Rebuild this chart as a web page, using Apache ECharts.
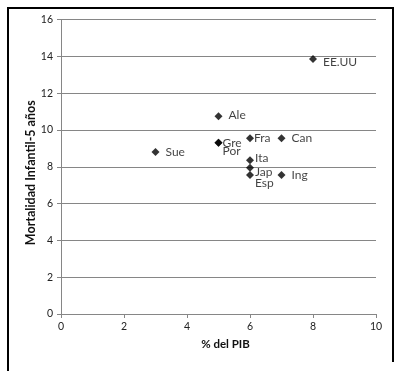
<!DOCTYPE html>
<html>
<head>
<meta charset="utf-8">
<script src="https://cdn.jsdelivr.net/npm/echarts@6/dist/echarts.min.js"></script>
<style>
html,body{margin:0;padding:0;background:#fff;}
#c{width:402px;height:371px;}
</style>
</head>
<body>
<div id="c"></div>
<script>
// Data
var countries = ['Sue', 'Gre', 'Por', 'Ale', 'Fra', 'Can', 'Ita', 'Jap', 'Esp', 'Ing', 'EE.UU'];
var pibValues = [3, 5, 5, 5, 6, 7, 6, 6, 6, 7, 8];
var mortalityValues = [8.8, 9.3, 9.3, 10.75, 9.55, 9.55, 8.35, 7.95, 7.55, 7.55, 13.85];
var xTicks = [0, 2, 4, 6, 8, 10];
var yTicks = [0, 2, 4, 6, 8, 10, 12, 14, 16];

// label placement (style only)
var labelStyle = {
  'Sue': [6, 0], 'Gre': [0, 0], 'Por': [0, 8], 'Ale': [6, -1], 'Fra': [0, 0],
  'Can': [6, 0], 'Ita': [1, -2], 'Jap': [1, 4], 'Esp': [1, 8], 'Ing': [6, 0], 'EE.UU': [6, 3]
};

var chart = echarts.init(document.getElementById('c'), null, {renderer: 'canvas'});
var pts = countries.map(function (n, i) {
  var s = labelStyle[n];
  return {
    name: n,
    value: [pibValues[i], mortalityValues[i]],
    label: {distance: s[0], offset: [0, s[1]]}
  };
});

var axisColor = '#868686';
chart.setOption({
  animation: false,
  backgroundColor: '#fff',
  textStyle: {fontFamily: 'Lato'},
  grid: {left: 61, right: 26, top: 19.5, bottom: 57, containLabel: false, outerBoundsMode: 'none'},
  xAxis: {
    type: 'value', min: xTicks[0], max: xTicks[xTicks.length - 1], interval: 2,
    name: '% del PIB', nameLocation: 'middle', nameGap: 24, nameMoveOverlap: false,
    nameTextStyle: {fontFamily: 'Lato', fontWeight: 'bold', fontSize: 11.5, color: '#111', padding: [0, 0, 0, 14]},
    axisLine: {show: true, lineStyle: {color: axisColor, width: 1}},
    axisTick: {show: true, length: 4, lineStyle: {color: axisColor}},
    axisLabel: {color: '#222', fontSize: 10.5, margin: 7, fontFamily: 'Lato'},
    splitLine: {show: false}
  },
  yAxis: {
    type: 'value', min: yTicks[0], max: yTicks[yTicks.length - 1], interval: 2,
    name: 'Mortalidad Infantil-5 años', nameLocation: 'middle', nameGap: 24, nameRotate: 90, nameMoveOverlap: false,
    nameTextStyle: {fontFamily: 'Lato', fontWeight: 'bold', fontSize: 12.5, color: '#111', padding: [0, 12, 0, 0]},
    axisLine: {show: true, lineStyle: {color: axisColor, width: 1}},
    axisTick: {show: true, length: 4, lineStyle: {color: axisColor}},
    axisLabel: {color: '#222', fontSize: 10.5, margin: 8, fontFamily: 'Lato'},
    splitLine: {show: true, lineStyle: {color: axisColor, width: 1}}
  },
  series: [{
    type: 'scatter',
    symbol: 'diamond',
    symbolSize: 8,
    itemStyle: {color: '#000'},
    label: {
      show: true, position: 'right', formatter: '{b}',
      color: '#111', fontSize: 12, fontFamily: 'Lato'
    },
    data: pts
  }],
  graphic: [{
    type: 'polyline',
    shape: {points: [[8, 371], [8, 8], [393, 8], [393, 362]]},
    style: {stroke: '#000', lineWidth: 2, fill: null}
  }]
});
</script>
</body>
</html>
